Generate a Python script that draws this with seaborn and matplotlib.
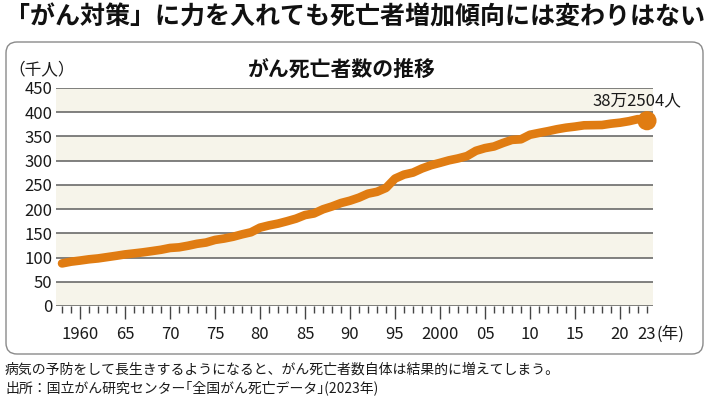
import matplotlib
matplotlib.use("Agg")
import matplotlib.pyplot as plt
import seaborn as sns
from matplotlib.patches import FancyBboxPatch

# cancer deaths in Japan (thousand people)
years = list(range(1958, 2024))
deaths = [87.9, 91.5, 93.8, 96.4, 98.2, 100.9, 103.6, 106.5, 108.6, 110.8,
          113.4, 116.1, 119.8, 121.1, 124.4, 128.4, 131.0, 136.4, 139.2, 142.9,
          147.9, 152.2, 161.8, 166.4, 170.1, 175.0, 180.3, 187.7, 191.0, 199.6,
          205.5, 212.6, 217.4, 223.7, 231.9, 235.7, 243.7, 263.0, 271.2, 275.4,
          283.9, 290.6, 295.5, 300.7, 304.6, 309.5, 320.4, 325.9, 329.3, 336.5,
          342.9, 344.1, 353.5, 357.3, 360.9, 364.9, 368.1, 370.3, 373.0, 373.3,
          373.6, 376.4, 378.4, 381.5, 385.8, 382.5]

major_years = [1960, 1965, 1970, 1975, 1980, 1985, 1990, 1995, 2000, 2005,
               2010, 2015, 2020, 2023]
major_labels = ["1960", "65", "70", "75", "80", "85", "90", "95", "2000", "05",
                "10", "15", "20", "23"]
y_ticks = [0, 50, 100, 150, 200, 250, 300, 350, 400, 450]

headline = "「がん対策」に力を入れても死亡者増加傾向には変わりはない"
chart_title = "がん死亡者数の推移"
unit_label = "（千人）"
end_label = "38万2504人"
note_1 = "病気の予防をして長生きするようになると、がん死亡者数自体は結果的に増えてしまう。"
note_2 = "出所：国立がん研究センター｢全国がん死亡データ｣(2023年)"

line_color = "#e07c12"

sns.set_style("white")
plt.rcParams["font.family"] = ["Noto Sans CJK JP", "DejaVu Sans"]

W, H = 710, 396
fig = plt.figure(figsize=(W / 100, H / 100), dpi=100)
ax = fig.add_axes([56 / W, 1 - 306 / H, (653 - 56) / W, (306 - 88) / H])

# rounded frame around the chart
frame = FancyBboxPatch((0.06, 0.42), 6.97, 3.12,
                       boxstyle="round,pad=0,rounding_size=0.11",
                       transform=fig.dpi_scale_trans, facecolor="none",
                       edgecolor="#8a8a8a", linewidth=1.0, zorder=0)
fig.patches.append(frame)

# alternating background bands
for lo in range(0, 450, 100):
    ax.axhspan(lo, lo + 50, color="#f6f4ea", zorder=0, lw=0)
for v in y_ticks:
    ax.axhline(v, color="#5e5e5e", lw=1.1, zorder=1)

sns.lineplot(x=years, y=deaths, ax=ax, color=line_color, linewidth=6.2,
             solid_capstyle="round", solid_joinstyle="round", zorder=3)
sns.scatterplot(x=[years[-1]], y=[deaths[-1]], ax=ax, color=line_color,
                s=190, edgecolor="none", zorder=4, clip_on=False)

ax.annotate(end_label, xy=(years[-1], deaths[-1]), xytext=(-7, 14),
            textcoords="offset points", ha="center", va="center",
            fontsize=12, color="#1a1a1a")

ax.set_xlim(1957.33, 2023.67)
ax.set_ylim(0, 450)
for s in ax.spines.values():
    s.set_visible(False)

ax.set_yticks(y_ticks)
ax.set_yticklabels([str(v) for v in y_ticks])
ax.tick_params(axis="y", left=False, length=0, pad=2.5, labelsize=12,
               labelcolor="#1a1a1a")

ax.set_xticks(major_years)
ax.set_xticklabels(major_labels)
ax.set_xticks(years, minor=True)
ax.tick_params(axis="x", which="major", bottom=True, direction="out",
               length=9.5, width=1.0, color="#444444", pad=5, labelsize=12,
               labelcolor="#1a1a1a")
ax.tick_params(axis="x", which="minor", bottom=True, direction="out",
               length=5, width=1.0, color="#444444")
ax.xaxis.get_major_ticks()[-1].tick1line.set_markersize(5)
ax.set_xlabel("")
ax.set_ylabel("")

ax.annotate("(年)", xy=(2023, 0), xytext=(7, -20), textcoords="offset points",
            ha="left", va="center", fontsize=12, color="#1a1a1a",
            annotation_clip=False)

fig.text(5 / W, 1 - 17 / H, headline, fontsize=18, fontweight="bold",
         ha="left", va="center", color="#111111")
fig.text(342 / W, 1 - 69 / H, chart_title, fontsize=15, fontweight="bold",
         ha="center", va="center", color="#111111")
fig.text(8 / W, 1 - 70 / H, unit_label, fontsize=12, ha="left", va="center",
         color="#1a1a1a")
fig.text(5 / W, 1 - 370 / H, note_1, fontsize=10, ha="left", va="center",
         color="#1a1a1a")
fig.text(5 / W, 1 - 388 / H, note_2, fontsize=10, ha="left", va="center",
         color="#1a1a1a")

fig.savefig("out.png", dpi=100)
